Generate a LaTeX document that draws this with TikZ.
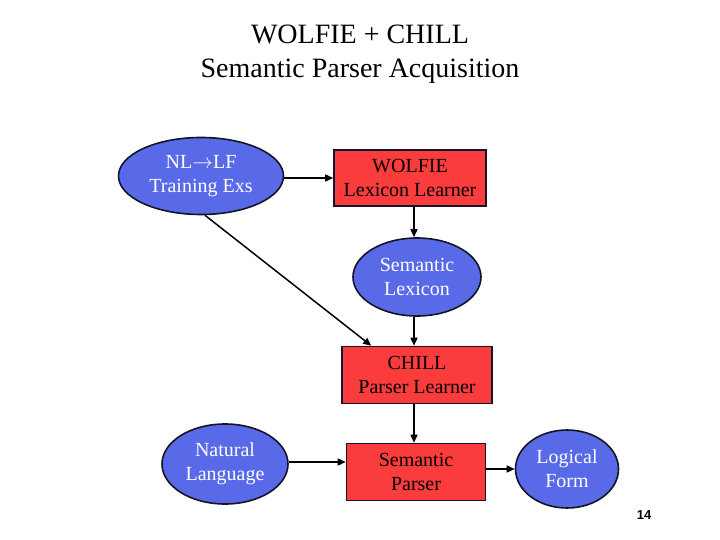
\documentclass[tikz,border=0pt]{standalone}
\usepackage{fontspec}
\setmainfont{Liberation Serif}
\newfontfamily\numfont{Liberation Sans}
\usetikzlibrary{shapes.geometric,arrows.meta,calc}
\definecolor{ellblue}{RGB}{88,106,232}
\definecolor{boxred}{RGB}{250,60,60}
\definecolor{edgedark}{RGB}{20,20,40}
\tikzset{
  ellnode/.style={ellipse, draw=edgedark, line width=1.6pt, fill=ellblue, text=white, inner sep=0pt, align=center, font=\fontsize{20}{24}\selectfont},
  boxnode/.style={rectangle, draw=edgedark, line width=1.6pt, fill=boxred, text=black, inner sep=0pt, align=center, font=\fontsize{20}{24}\selectfont},
  conn/.style={line width=1.5pt, -{Triangle[length=8pt,width=7pt]}}
}
\begin{document}
\begin{tikzpicture}[x=1pt,y=-1pt]
\useasboundingbox (0,0) rectangle (720,540);
\node[font=\fontsize{28}{34}\selectfont, align=center] (title) at (360,54) {WOLFIE + CHILL\\Semantic Parser Acquisition};
\node[ellnode, minimum width=165pt, minimum height=77pt] (nlf) at (201,176) {NL$\rightarrow$LF\\Training Exs};
\node[boxnode, minimum width=152pt, minimum height=56pt] (wolfie) at (410,178) {WOLFIE\\Lexicon Learner};
\node[ellnode, minimum width=128pt, minimum height=78pt] (lex) at (417,277) {Semantic\\Lexicon};
\node[boxnode, minimum width=150pt, minimum height=57pt] (chill) at (417,375) {CHILL\\Parser Learner};
\node[ellnode, minimum width=126pt, minimum height=80pt] (nl) at (225,464) {Natural\\Language};
\node[boxnode, minimum width=139pt, minimum height=57pt] (parser) at (416,472) {Semantic\\Parser};
\node[ellnode, minimum width=103pt, minimum height=78pt] (lf) at (567,469) {Logical\\Form};
\node[font=\numfont\bfseries\fontsize{13}{15}\selectfont] (pg) at (644,515) {14};
\coordinate (ax) at (414,0);
\draw[conn] (nlf.east |- wolfie.west) -- (wolfie.west);
\draw[conn] (wolfie.south -| ax) -- (lex.north -| ax);
\draw[conn] (lex.south -| ax) -- (chill.north -| ax);
\draw[conn] (chill.south -| ax) -- (parser.north -| ax);
\draw[conn] ($(nlf.south)+(4,0)$) -- ($(chill.north west)+(30,0)$);
\draw[conn] ($(nl.east)+(0,-2)$) -- ($(parser.west |- nl.east)+(0,-2)$);
\draw[conn] (parser.east |- lf.west) -- (lf.west);
\end{tikzpicture}
\end{document}
